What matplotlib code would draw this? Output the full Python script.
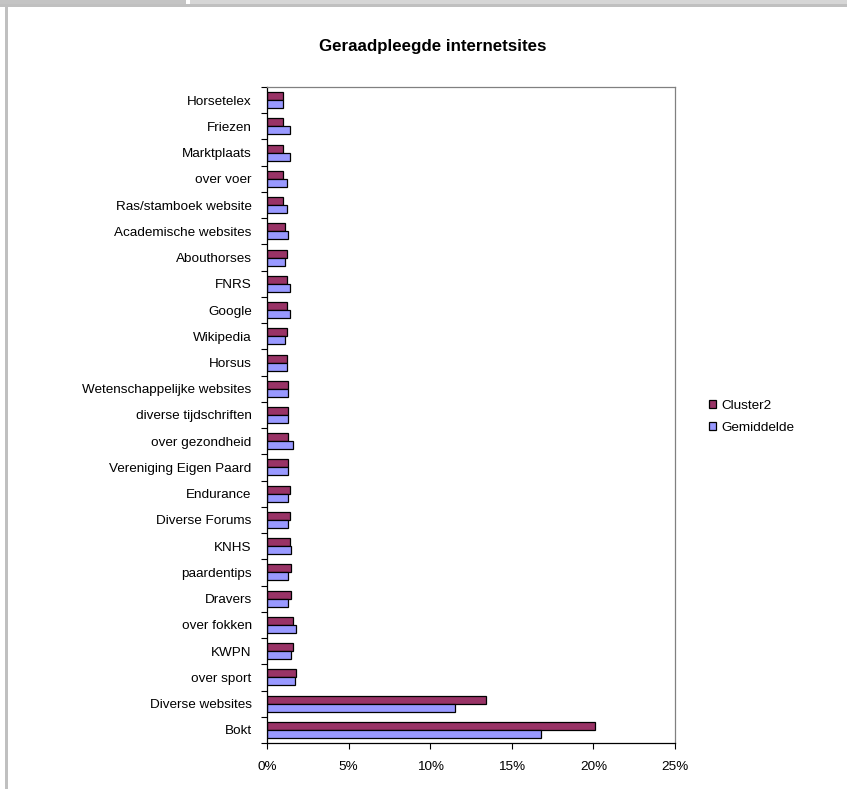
import matplotlib
matplotlib.use("Agg")
import matplotlib.pyplot as plt
from matplotlib.patches import Rectangle
import numpy as np

plt.rcParams['font.family'] = ['Liberation Sans', 'DejaVu Sans']

# Data (bottom to top as in the chart)
categories = ["Bokt", "Diverse websites", "over sport", "KWPN", "over fokken",
              "Dravers", "paardentips", "KNHS", "Diverse Forums", "Endurance",
              "Vereniging Eigen Paard", "over gezondheid", "diverse tijdschriften",
              "Wetenschappelijke websites", "Horsus", "Wikipedia", "Google", "FNRS",
              "Abouthorses", "Academische websites", "Ras/stamboek website",
              "over voer", "Marktplaats", "Friezen", "Horsetelex"]
cluster2 = [20.1, 13.4, 1.8, 1.6, 1.6, 1.5, 1.5, 1.4, 1.4, 1.4,
            1.3, 1.3, 1.3, 1.3, 1.2, 1.2, 1.2, 1.2, 1.2, 1.1, 1.0, 1.0, 1.0, 1.0, 1.0]
gemiddelde = [16.8, 11.5, 1.7, 1.5, 1.8, 1.3, 1.3, 1.5, 1.3, 1.3,
              1.3, 1.6, 1.3, 1.3, 1.2, 1.1, 1.4, 1.4, 1.1, 1.3, 1.2, 1.2, 1.4, 1.4, 1.0]
xticks = [0, 5, 10, 15, 20, 25]
xticklabels = ["0%", "5%", "10%", "15%", "20%", "25%"]
series_names = ["Cluster2", "Gemiddelde"]
colors = ["#993366", "#9999FF"]

W, H = 847, 789
fig = plt.figure(figsize=(W / 100, H / 100), dpi=100)
fig.patch.set_facecolor("white")

# window-like gray frame
fig.patches.append(Rectangle((0, 1 - 4 / H), 186 / W, 4 / H, transform=fig.transFigure,
                             facecolor="#c4c4c4", edgecolor="none", zorder=0))
fig.patches.append(Rectangle((190 / W, 1 - 4 / H), 1 - 190 / W, 4 / H, transform=fig.transFigure,
                             facecolor="#d6d6d6", edgecolor="none", zorder=0))
fig.patches.append(Rectangle((0, 1 - 7 / H), 1, 3 / H, transform=fig.transFigure,
                             facecolor="#c0c0c0", edgecolor="none", zorder=0))
fig.patches.append(Rectangle((5 / W, 0), 3 / W, 1 - 4 / H, transform=fig.transFigure,
                             facecolor="#c0c0c0", edgecolor="none", zorder=0))

ax = fig.add_axes([267 / W, (H - 743) / H, 408 / W, 656 / H])

y = np.arange(len(categories))
h = 0.305
ax.barh(y + h / 2, cluster2, height=h, color=colors[0], edgecolor="black",
        linewidth=0.9, label=series_names[0])
ax.barh(y - h / 2, gemiddelde, height=h, color=colors[1], edgecolor="black",
        linewidth=0.9, label=series_names[1])

ax.set_xlim(0, 25)
ax.set_ylim(-0.5, len(categories) - 0.5)
ax.set_xticks(xticks)
ax.set_xticklabels(xticklabels, fontsize=9.7)
ax.set_yticks(y)
ax.set_yticklabels(categories, fontsize=9.7)
ax.tick_params(axis="y", which="major", length=0, pad=11)
ax.set_yticks(np.arange(-0.5, len(categories), 1.0), minor=True)
ax.tick_params(axis="y", which="minor", length=4, width=0.8, direction="out", color="black")
ax.tick_params(axis="x", which="major", length=4, width=0.8, direction="out", pad=9)

for side in ["top", "right"]:
    ax.spines[side].set_color("#808080")
    ax.spines[side].set_linewidth(0.9)
for side in ["left", "bottom"]:
    ax.spines[side].set_color("black")
    ax.spines[side].set_linewidth(0.9)

fig.text(433 / W, 1 - 47 / H, "Geraadpleegde internetsites", ha="center", va="center",
         fontsize=12.2, fontweight="bold")

handles, labels = ax.get_legend_handles_labels()
leg = fig.legend(handles, labels, loc="upper left", bbox_to_anchor=(709 / W, 1 - 400 / H),
                 frameon=False, fontsize=9.7, handlelength=0.55, handleheight=0.55,
                 handletextpad=0.4, labelspacing=0.75, borderpad=0, borderaxespad=0)

fig.savefig("out.png", dpi=100)
